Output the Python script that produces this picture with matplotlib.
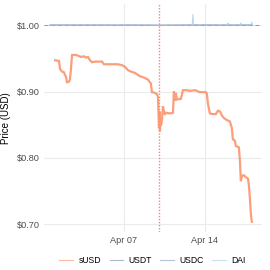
import matplotlib
matplotlib.use('Agg')
import matplotlib.pyplot as plt
import matplotlib.dates as mdates
from matplotlib.ticker import FuncFormatter
import pandas as pd

plt.rcParams['font.family'] = ['Liberation Sans', 'DejaVu Sans']

# day-of-April 2025 (fractional) and price
susd_days = [1.04, 1.38, 1.47, 1.64, 1.81, 1.90, 1.99, 2.07, 2.25, 2.33, 2.42, 2.51,
             2.85, 3.02, 3.28, 3.54, 3.72, 3.89, 4.06, 4.23, 4.49, 5.10, 5.27, 5.96,
             6.48, 6.74, 6.91, 7.09, 7.35, 7.60, 7.95, 8.38, 8.73, 9.07, 9.33, 9.42,
             9.68, 9.85, 9.94, 10.03, 10.07, 10.11, 10.16, 10.20, 10.29, 10.37, 10.46,
             10.54, 10.63, 10.98, 11.24, 11.32, 11.41, 11.49, 11.58, 11.93, 12.01,
             12.10, 12.36, 12.70, 13.14, 13.57, 14.09, 14.17, 14.26, 14.43, 14.69,
             14.95, 15.12, 15.30, 15.47, 15.64, 15.90, 16.16, 16.33, 16.42, 16.59,
             16.68, 16.94, 17.03, 17.11, 17.20, 17.37, 17.55, 17.72, 17.80, 17.89,
             17.98, 18.06]
susd_prices = [0.947, 0.946, 0.934, 0.930, 0.929, 0.925, 0.922, 0.914, 0.915, 0.918,
               0.935, 0.955, 0.955, 0.954, 0.952, 0.953, 0.951, 0.952, 0.947, 0.944,
               0.945, 0.945, 0.941, 0.941, 0.941, 0.940, 0.939, 0.937, 0.932, 0.930,
               0.928, 0.923, 0.921, 0.918, 0.912, 0.899, 0.898, 0.896, 0.892, 0.845,
               0.870, 0.840, 0.860, 0.848, 0.858, 0.878, 0.870, 0.865, 0.868, 0.867,
               0.868, 0.900, 0.886, 0.898, 0.888, 0.889, 0.895, 0.902, 0.902, 0.901,
               0.902, 0.899, 0.899, 0.897, 0.882, 0.867, 0.866, 0.866, 0.871, 0.870,
               0.864, 0.860, 0.857, 0.855, 0.845, 0.828, 0.826, 0.818, 0.816, 0.795,
               0.765, 0.773, 0.774, 0.771, 0.769, 0.760, 0.740, 0.715, 0.704]

usdt_days = [0.6, 2.0, 4.0, 6.0, 8.0, 10.0, 12.0, 14.0, 16.0, 18.1]
usdt_prices = [1.0002, 1.0001, 1.0002, 1.0000, 1.0001, 0.9998, 1.0001, 1.0002, 1.0001, 1.0002]

usdc_days = [0.6, 2.0, 4.0, 6.0, 8.0, 10.0, 12.0, 14.0, 16.0, 18.1]
usdc_prices = [0.9999, 1.0000, 0.9999, 0.9999, 1.0000, 0.9997, 0.9999, 1.0000, 0.9999, 1.0000]

dai_days = [0.6, 3.0, 6.0, 9.0, 10.0, 12.9, 12.96, 13.02, 15.95, 15.99, 16.03,
            17.07, 17.11, 17.15, 18.02, 18.06, 18.1]
dai_prices = [1.0000, 1.0001, 0.9999, 1.0000, 0.9996, 1.0001, 1.0160, 1.0001, 1.0001,
              1.0030, 1.0001, 1.0002, 1.0030, 1.0002, 1.0002, 1.0040, 1.0001]

event_day = 10.0


def to_dates(days):
    return pd.Timestamp('2025-04-01') + pd.to_timedelta([d - 1 for d in days], unit='D')


fig = plt.figure(figsize=(2.7, 2.7), dpi=100)
ax = fig.add_axes([0.163, 0.141, 0.807, 0.844])

ax.axhline(1.0, color='#999999', lw=0.7, ls=(0, (4, 3)), zorder=1)
ax.axvline(to_dates([event_day])[0], color='#F25C54', lw=1.0, alpha=0.75,
           ls=(0, (1, 1.2)), zorder=1)

ax.plot(to_dates(susd_days), susd_prices, color='#FC8D62', lw=1.6, alpha=0.85,
        label='sUSD', zorder=3, solid_joinstyle='miter')
ax.plot(to_dates(usdt_days), usdt_prices, color='#7A86B8', lw=0.7, alpha=0.7,
        label='USDT', zorder=2)
ax.plot(to_dates(usdc_days), usdc_prices, color='#8E94C4', lw=0.7, alpha=0.7,
        label='USDC', zorder=2)
ax.plot(to_dates(dai_days), dai_prices, color='#A6CEE3', lw=0.7, alpha=0.8,
        label='DAI', zorder=2)

ax.set_ylim(0.6887, 1.0316)
ax.set_xlim(to_dates([0.086])[0], to_dates([18.93])[0])
ax.set_yticks([0.7, 0.8, 0.9, 1.0])
ax.yaxis.set_major_formatter(FuncFormatter(lambda v, p: f'${v:.2f}'))
ax.set_xticks(to_dates([7, 14]))
ax.xaxis.set_major_formatter(mdates.DateFormatter('%b %d'))

ax.grid(True, color='#EBEBEB', lw=0.8)
ax.set_axisbelow(True)
for s in ax.spines.values():
    s.set_visible(False)
ax.tick_params(length=0, labelsize=6.6, labelcolor='#4D4D4D', pad=3)
ax.set_ylabel('Price (USD)', fontsize=7, color='black', labelpad=4)

leg = fig.legend(loc='center', bbox_to_anchor=(0.565, 0.035), ncol=4, frameon=False,
                 fontsize=6.2, handlelength=1.6, columnspacing=1.0, handletextpad=0.6)
for h in leg.get_lines():
    h.set_linewidth(0.8)
    h.set_alpha(0.6)

fig.savefig('out.png', dpi=100)
plt.close()
